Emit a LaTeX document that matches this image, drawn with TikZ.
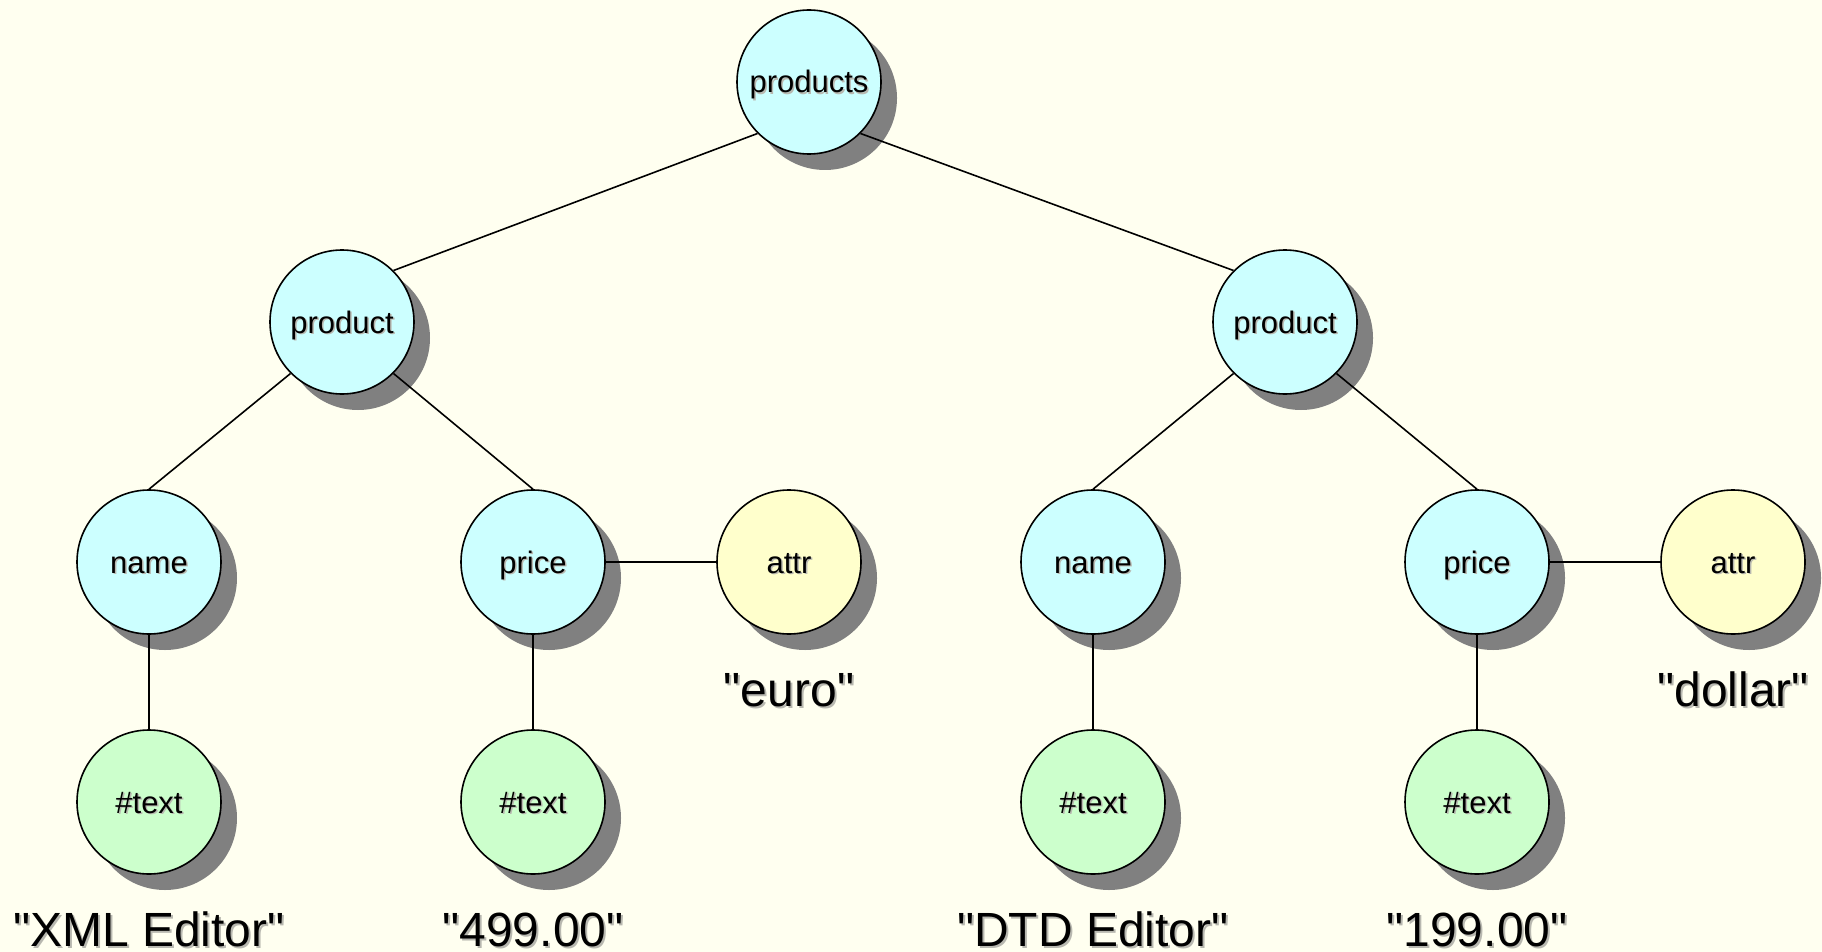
\documentclass[tikz,border=0pt]{standalone}
\usepackage{fontspec}
\setmainfont{Liberation Sans}
\usetikzlibrary{shadows}
\definecolor{bg}{HTML}{FFFFF0}
\definecolor{elemfill}{HTML}{CCFFFF}
\definecolor{textfill}{HTML}{CCFFCC}
\definecolor{attrfill}{HTML}{FFFFCC}
\definecolor{shade}{HTML}{808080}
\definecolor{glyphshade}{HTML}{B8B8B0}
\newcommand\shtext[2][1.5pt]{\rlap{\hspace{#1}\raisebox{-#1}{\color{glyphshade}#2}}#2}
\newcommand\qt{\textquotedbl}

\begin{document}
\begin{tikzpicture}[x=1pt,y=-1pt,
  treenode/.style={circle, draw=black, line width=1.6pt, minimum size=144pt, inner sep=0pt,
    font=\fontsize{31}{31}\selectfont, text height=22pt, text depth=0pt,
    drop shadow={shadow xshift=16pt, shadow yshift=-16pt, fill=shade, opacity=1}},
  elem/.style={treenode, fill=elemfill},
  txt/.style={treenode, fill=textfill},
  attrib/.style={treenode, fill=attrfill},
  link/.style={line width=1.6pt},
  value/.style={font=\fontsize{48}{48}\selectfont, anchor=base, inner sep=0pt}]
\fill[bg] (0,0) rectangle (1822,952);

% element nodes
\node[elem] (root) at (809,82) {\shtext{products}};
\node[elem] (prodA) at (342,322) {\shtext{product}};
\node[elem] (prodB) at (1285,322) {\shtext{product}};
\node[elem] (nameA) at (149,562) {\shtext{name}};
\node[elem] (priceA) at (533,562) {\shtext{price}};
\node[elem] (nameB) at (1093,562) {\shtext{name}};
\node[elem] (priceB) at (1477,562) {\shtext{price}};
% attribute nodes
\node[attrib] (attrA) at (789,562) {\shtext{attr}};
\node[attrib] (attrB) at (1733,562) {\shtext{attr}};
% text nodes
\node[txt] (textA) at (149,802) {\shtext{\#text}};
\node[txt] (textB) at (533,802) {\shtext{\#text}};
\node[txt] (textC) at (1093,802) {\shtext{\#text}};
\node[txt] (textD) at (1477,802) {\shtext{\#text}};

% values
\node[value] (valA) at (149,946) {\shtext[2pt]{\qt XML Editor\qt}};
\node[value] (valB) at (533,946) {\shtext[2pt]{\qt 499.00\qt}};
\node[value] (valC) at (1093,946) {\shtext[2pt]{\qt DTD Editor\qt}};
\node[value] (valD) at (1477,946) {\shtext[2pt]{\qt 199.00\qt}};
\node[value] (valE) at (789,706) {\shtext[2pt]{\qt euro\qt}};
\node[value] (valF) at (1733,706) {\shtext[2pt]{\qt dollar\qt}};

% tree edges
\draw[link] (root.south west) -- (prodA.north east);
\draw[link] (root.south east) -- (prodB.north west);
\draw[link] (prodA.south west) -- (nameA.north);
\draw[link] (prodA.south east) -- (priceA.north);
\draw[link] (prodB.south west) -- (nameB.north);
\draw[link] (prodB.south east) -- (priceB.north);
\draw[link] (priceA.east) -- (attrA.west);
\draw[link] (priceB.east) -- (attrB.west);
\draw[link] (nameA.south) -- (textA.north);
\draw[link] (priceA.south) -- (textB.north);
\draw[link] (nameB.south) -- (textC.north);
\draw[link] (priceB.south) -- (textD.north);
\end{tikzpicture}
\end{document}
